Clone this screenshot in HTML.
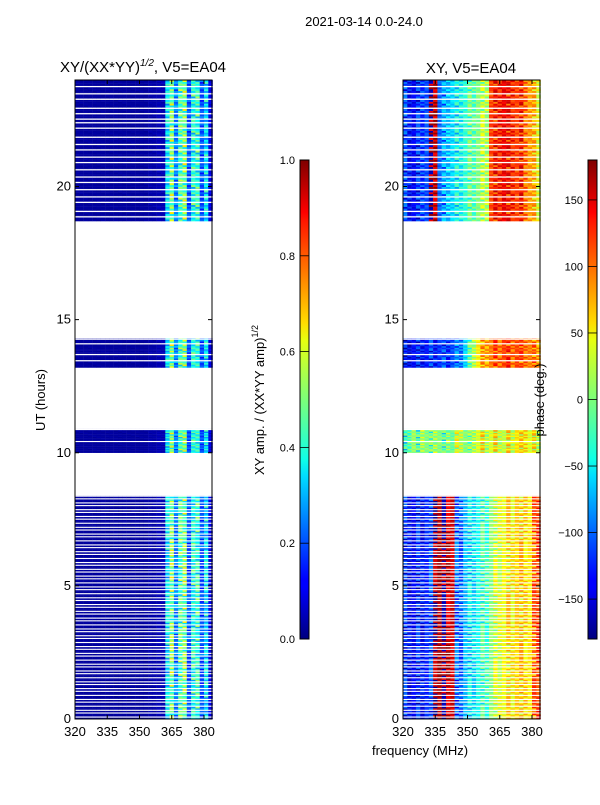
<!DOCTYPE html>
<html><head><meta charset="utf-8"><style>
body{margin:0;background:#fff;font-family:"Liberation Sans","DejaVu Sans",sans-serif;}
svg text{font-family:"Liberation Sans","DejaVu Sans",sans-serif;fill:#000;}
</style></head><body>
<svg id="fig" width="600" height="800" viewBox="0 0 600 800">
<defs>
<linearGradient id="jet" x1="0" y1="1" x2="0" y2="0">
<stop offset="0" stop-color="#00007f"/><stop offset="0.11" stop-color="#0000ff"/><stop offset="0.125" stop-color="#0000ff"/>
<stop offset="0.34" stop-color="#00ddff"/><stop offset="0.375" stop-color="#0fffe7"/><stop offset="0.5" stop-color="#7cff79"/>
<stop offset="0.625" stop-color="#e7ff0f"/><stop offset="0.66" stop-color="#ffdc00"/><stop offset="0.875" stop-color="#ff1400"/>
<stop offset="0.89" stop-color="#ff0000"/><stop offset="1" stop-color="#7f0000"/>
</linearGradient>
</defs>
<text x="364" y="26" font-size="13" text-anchor="middle">2021-03-14 0.0-24.0</text>
<text x="143" y="72" font-size="15" text-anchor="middle">XY/(XX*YY)<tspan dy="-6" font-size="10" font-style="italic">1/2</tspan><tspan dy="6">, V5=EA04</tspan></text>
<text x="471" y="73" font-size="15" text-anchor="middle">XY, V5=EA04</text>
<g id="amp"></g>
<g id="phs"></g>
<g id="axes"></g>
<text transform="translate(45,400) rotate(-90)" font-size="13" text-anchor="middle">UT (hours)</text>
<text x="420" y="755" font-size="13" text-anchor="middle">frequency (MHz)</text>
<rect x="300" y="160" width="9" height="479" fill="url(#jet)" stroke="#000" stroke-width="1"/>
<rect x="588" y="160" width="9" height="479" fill="url(#jet)" stroke="#000" stroke-width="1"/>
<text transform="translate(264,400) rotate(-90)" font-size="13" text-anchor="middle">XY amp. / (XX*YY amp)<tspan dy="-6" font-size="9">1/2</tspan></text>
<text transform="translate(544,400) rotate(-90)" font-size="13" text-anchor="middle">phase (deg.)</text>
<g id="cb"></g>
</svg>
<script>
// ---- data ----
const segments=[[0,8.4],[10.0,10.9],[13.2,14.3],[18.7,24.0]];
const segMasks=[
"101101011011010110110101101011011010110101101101011010110110101101011011010110101101011010110110101101101011010110101101101011010110110101101011011010110101101011010",
"111111110111111110",
"1111011101111110110",
"110110111101101110111011011101110110111011011101111011010110110111101101110111"];
const freqBins=[320,322,324,326,328,330,332,334,336,338,340,342,344,346,348,350,352,354,356,358,360,362,364,366,368,370,372,374,376,378,380,382];
const ampProfile=[0.03,0.03,0.03,0.03,0.03,0.03,0.03,0.03,0.03,0.03,0.03,0.03,0.03,0.03,0.03,0.03,0.03,0.04,0.04,0.05,0.05,0.35,0.5,0.25,0.45,0.5,0.2,0.4,0.42,0.2,0.35,0.1];
const phaseLow=[-130,-135,-140,-135,-130,-125,-120,170,165,170,160,150,-110,-100,-70,-60,-50,-40,-30,-20,0,20,35,40,45,50,60,55,60,50,90,120];
const phaseMid=[-40,-10,10,-30,20,0,-20,20,0,-30,10,-10,20,30,0,-10,20,30,40,20,30,40,30,20,40,30,50,40,60,30,40,20];
const phaseEve=[-140,-140,-135,-135,-130,-130,-125,-125,-120,-120,-120,-110,-100,-90,-60,-20,20,50,70,80,90,100,100,110,110,100,110,100,100,90,90,80];
const phaseHigh=[-120,-130,-140,-130,-110,-110,170,160,-100,-90,-60,-60,-50,-40,-30,-20,-10,0,10,20,110,120,130,140,120,130,110,120,100,80,60,40];
const rowOffsets=[0,30,-20,50,-40,15,-60,35,-15,70,-30,10,55,-45,20];
const ampRowScale=[1,0.8,1.2,0.9,1.1,0.7,1.3,1,0.85,1.15];
const yTicks=[0,5,10,15,20];
const xTicks=[320,335,350,365,380];
const ampTicks=[0.0,0.2,0.4,0.6,0.8,1.0];
const phaseTicks=[-150,-100,-50,0,50,100,150];
// ---- scales ----
const NS="http://www.w3.org/2000/svg";
const Y0=719,Y1=80;
const yS=h=>Y0-(h/24)*(Y0-Y1);
const xL=f=>75+(f-320)*2.15, xR=f=>403+(f-320)*2.15;
function jet(v){v=Math.max(0,Math.min(1,v));
 const r=Math.min(4*v-1.5,-4*v+4.5),g=Math.min(4*v-0.5,-4*v+3.5),b=Math.min(4*v+0.5,-4*v+2.5);
 const c=x=>Math.round(255*Math.max(0,Math.min(1,x)));return `rgb(${c(r)},${c(g)},${c(b)})`;}
function mk(tag,attrs,parent){const e=document.createElementNS(NS,tag);for(const k in attrs)e.setAttribute(k,attrs[k]);parent.appendChild(e);return e;}
const ga=document.getElementById('amp'),gp=document.getElementById('phs');
const profs=[phaseLow,phaseMid,phaseEve,phaseHigh];
segments.forEach((s,si)=>{
 const mask=segMasks[si];const n=mask.length;const dh=(s[1]-s[0])/n;
 for(let r=0;r<n;r++){
  const t0=s[0]+r*dh,t1=t0+dh;const yTop=yS(t1);
  const hh=mask[r]==='1'?(yS(t0)-yS(t1)+0.2):Math.max(0,yS(t0)-yS(t1)-1.3);
  const prof=profs[si];
  for(let i=0;i<freqBins.length;i++){
   const f=freqBins[i];
   const a=ampProfile[i]*ampRowScale[(r+i)%ampRowScale.length];
   const ra=mk('rect',{x:xL(f),y:yTop,width:4.5,height:hh,fill:jet(a)},ga);
   
   
   let p=prof[i]+rowOffsets[(r*3+i)%rowOffsets.length]*(si===1?0.6:0.5);
   if(p>180)p-=360;if(p<-180)p+=360;
   const rp=mk('rect',{x:xR(f),y:yTop,width:4.5,height:hh,fill:jet((p+180)/360)},gp);
   
   
  }
 }
});
// axes
const ax=document.getElementById('axes');
[[75,xL],[403,xR]].forEach(([x0,xs],k)=>{
 const fr=mk('rect',{x:x0,y:80,width:137,height:639,fill:'none',stroke:'#000','stroke-width':1},ax);
 
 
 yTicks.forEach(t=>{const y=yS(t);
  mk('line',{x1:x0,x2:x0+4,y1:y,y2:y,stroke:'#000'},ax);mk('line',{x1:x0+137,x2:x0+133,y1:y,y2:y,stroke:'#000'},ax);
  const tx=mk('text',{x:x0-4,y:y+4,'font-size':13,'text-anchor':'end'},ax);tx.textContent=t;
  
  });
 xTicks.forEach(t=>{const x=xs(t);
  mk('line',{x1:x,x2:x,y1:719,y2:715,stroke:'#000'},ax);mk('line',{x1:x,x2:x,y1:80,y2:84,stroke:'#000'},ax);
  const tx=mk('text',{x:x,y:736,'font-size':13,'text-anchor':'middle'},ax);tx.textContent=t;
  
  });
});
const cb=document.getElementById('cb');
ampTicks.forEach(t=>{const y=639-t*479;
 mk('line',{x1:300,x2:309,y1:y,y2:y,stroke:'#000','stroke-width':0.8},cb);
 const tx=mk('text',{x:295,y:y+4,'font-size':11,'text-anchor':'end'},cb);tx.textContent=t.toFixed(1);
 
 });
phaseTicks.forEach(t=>{const y=639-(t+180)/360*479;
 mk('line',{x1:588,x2:597,y1:y,y2:y,stroke:'#000','stroke-width':0.8},cb);
 const tx=mk('text',{x:583,y:y+4,'font-size':11,'text-anchor':'end'},cb);tx.textContent=t<0?'\u2212'+(-t):t;
 
 });
</script>
</body></html>
